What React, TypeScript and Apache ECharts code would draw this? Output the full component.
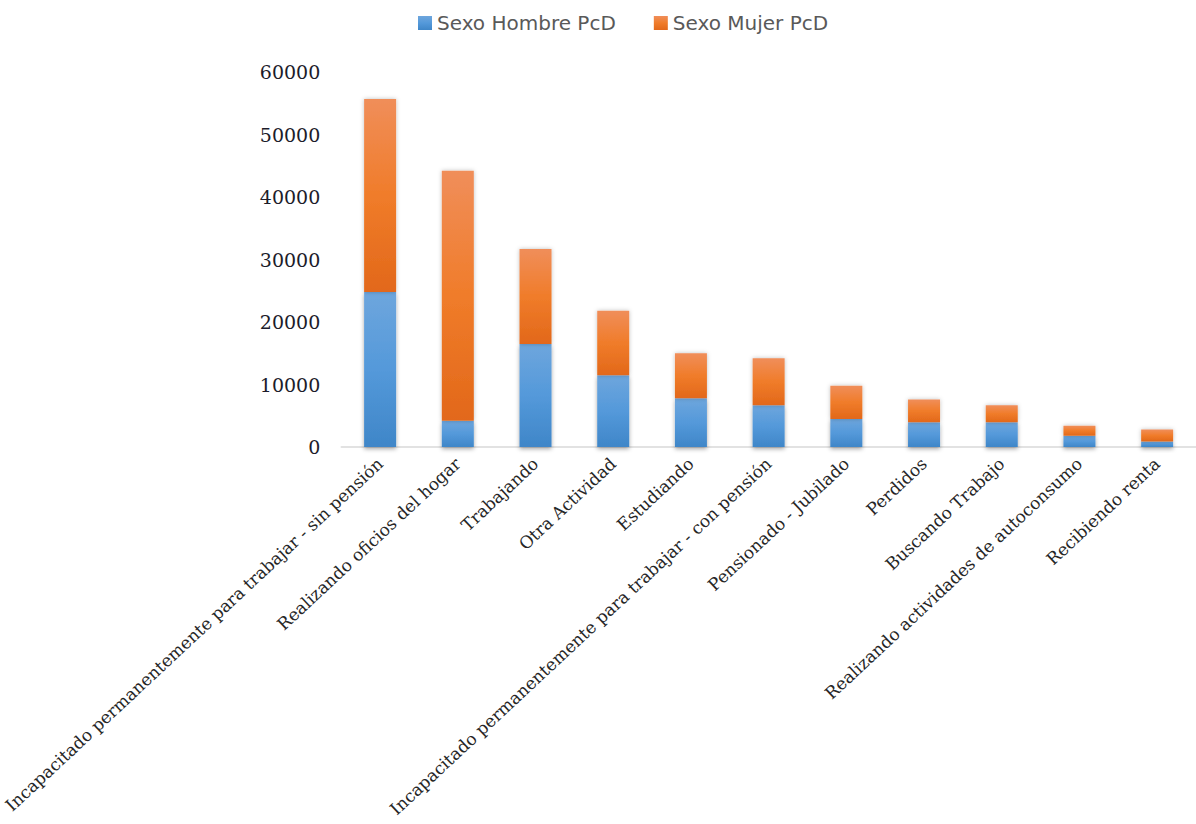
import React, { useEffect, useRef } from "react";
import * as echarts from "echarts";

const categories = [
  "Incapacitado permanentemente para trabajar - sin pensión",
  "Realizando oficios del hogar",
  "Trabajando",
  "Otra Actividad",
  "Estudiando",
  "Incapacitado permanentemente para trabajar - con pensión",
  "Pensionado - Jubilado",
  "Perdidos",
  "Buscando Trabajo",
  "Realizando actividades de autoconsumo",
  "Recibiendo renta",
];
const hombre = [24800, 4200, 16500, 11500, 7800, 6700, 4500, 3950, 3950, 1800, 900];
const mujer = [30900, 40000, 15200, 10300, 7200, 7500, 5300, 3650, 2750, 1600, 1900];
const yTicks = [0, 10000, 20000, 30000, 40000, 50000, 60000];

export default function App() {
  const ref = useRef<HTMLDivElement>(null);
  useEffect(() => {
    if (!ref.current) return;
    const chart = echarts.init(ref.current, null, { renderer: "svg" });
    const blue = new echarts.graphic.LinearGradient(0, 0, 0, 1, [
      { offset: 0, color: "#6ea6dd" },
      { offset: 0.5, color: "#5499da" },
      { offset: 1, color: "#3f86c8" },
    ]);
    const orange = new echarts.graphic.LinearGradient(0, 0, 0, 1, [
      { offset: 0, color: "#f08e5a" },
      { offset: 0.5, color: "#f07c2a" },
      { offset: 1, color: "#e2681a" },
    ]);
    chart.setOption({
      animation: false,
      legend: {
        top: 8,
        left: 413,
        itemWidth: 14,
        itemHeight: 14,
        itemGap: 38,
        icon: "rect",
        textStyle: { fontFamily: "DejaVu Sans", fontSize: 20, color: "#595959" },
        data: ["Sexo Hombre PcD", "Sexo Mujer PcD"],
      },
      grid: { left: 339, top: 72, width: 858, bottom: 824 - 447, containLabel: false },
      xAxis: {
        type: "category",
        data: categories,
        axisLine: { lineStyle: { color: "#d9d9d9", width: 1.5 } },
        axisTick: { show: false },
        axisLabel: {
          rotate: 43,
          interval: 0,
          margin: 14,
          fontFamily: "DejaVu Serif",
          fontSize: 17,
          color: "#262626",
        },
      },
      yAxis: {
        type: "value",
        min: yTicks[0],
        max: yTicks[yTicks.length - 1],
        interval: 10000,
        splitLine: { show: false },
        axisLine: { show: false },
        axisTick: { show: false },
        axisLabel: {
          formatter: (v: number) => String(v),
          fontFamily: "DejaVu Serif",
          fontSize: 19,
          color: "#1c1c2a",
          margin: 21,
        },
      },
      series: [
        {
          name: "Sexo Hombre PcD",
          type: "bar",
          stack: "t",
          barWidth: 32,
          data: hombre,
          itemStyle: {
            color: blue,
            shadowColor: "rgba(0,0,0,0.35)",
            shadowBlur: 4,
            shadowOffsetY: 2,
          },
        },
        {
          name: "Sexo Mujer PcD",
          type: "bar",
          stack: "t",
          barWidth: 32,
          data: mujer,
          itemStyle: {
            color: orange,
            shadowColor: "rgba(0,0,0,0.25)",
            shadowBlur: 4,
          },
        },
      ],
    });
    return () => chart.dispose();
  }, []);
  return (
    <div
      ref={ref}
      style={{ position: "absolute", left: 0, top: 0, width: 1196, height: 824, background: "#fff" }}
    />
  );
}
